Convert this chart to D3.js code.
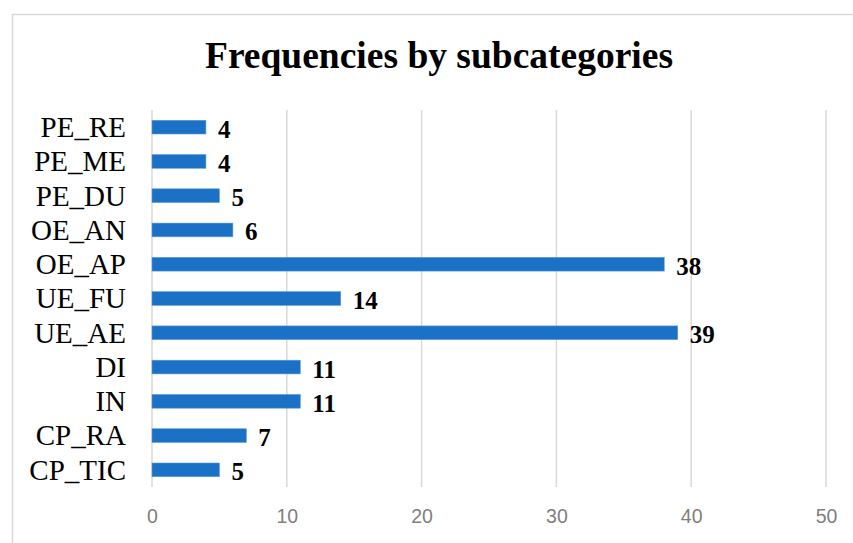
<!DOCTYPE html>
<html>
<head>
<meta charset="utf-8">
<script src="https://cdn.jsdelivr.net/npm/d3@7"></script>
<style>
  body { margin: 0; background: #fff; }
</style>
</head>
<body>
<div class="container"></div>
<script>
// chart size and plot area
const width = 853;
const height = 543;
const margin = { top: 110, bottom: 56, left: 152, right: 27 };

// data (top to bottom)
const categories = ["PE_RE", "PE_ME", "PE_DU", "OE_AN", "OE_AP", "UE_FU", "UE_AE", "DI", "IN", "CP_RA", "CP_TIC"];
const counts = [4, 4, 5, 6, 38, 14, 39, 11, 11, 7, 5];
const xTicks = [0, 10, 20, 30, 40, 50];

const svg = d3.select(".container")
  .append("svg")
  .attr("width", width)
  .attr("height", height);

// chart border (only top and left are visible in the picture)
svg.append("rect")
  .attr("x", 12.5)
  .attr("y", 14.5)
  .attr("width", width + 10)
  .attr("height", height + 10)
  .attr("fill", "none")
  .attr("stroke", "#d9d9d9")
  .attr("stroke-width", 1.5);

// title
svg.append("text")
  .attr("x", 439)
  .attr("y", 68)
  .attr("text-anchor", "middle")
  .attr("font-family", "'Liberation Serif', 'Times New Roman', serif")
  .attr("font-weight", "bold")
  .attr("font-size", "37.5px")
  .text("Frequencies by subcategories");

const xScale = d3.scaleLinear()
  .domain([0, 50])
  .range([margin.left, width - margin.right]);

const yScale = d3.scaleBand()
  .domain(categories)
  .range([margin.top, height - margin.bottom])
  .paddingInner(0.6)
  .paddingOuter(0.3);

// vertical gridlines
svg.append("g")
  .selectAll("line")
  .data(xTicks)
  .join("line")
  .attr("x1", d => xScale(d))
  .attr("x2", d => xScale(d))
  .attr("y1", margin.top)
  .attr("y2", height - margin.bottom)
  .attr("stroke", "#d9d9d9")
  .attr("stroke-width", 1.5);

// x axis tick labels
const xAxis = d3.axisBottom(xScale)
  .tickValues(xTicks)
  .tickSize(0)
  .tickPadding(0);

svg.append("g")
  .attr("transform", `translate(0, ${height - margin.bottom + 22})`)
  .call(xAxis)
  .call(g => g.select(".domain").remove())
  .call(g => g.selectAll("text")
    .attr("fill", "#808080")
    .attr("font-family", "'Liberation Sans', Arial, sans-serif")
    .attr("font-size", "19.5px"));

// y axis labels
const yAxis = d3.axisLeft(yScale)
  .tickSize(0)
  .tickPadding(26);

svg.append("g")
  .attr("transform", `translate(${margin.left}, 0)`)
  .call(yAxis)
  .call(g => g.select(".domain").remove())
  .call(g => g.selectAll("text")
    .attr("fill", "#000")
    .attr("dy", "0.34em")
    .attr("font-family", "'Liberation Serif', 'Times New Roman', serif")
    .attr("font-size", "29px"));

// bars
svg.append("g")
  .selectAll("rect")
  .data(counts)
  .join("rect")
  .attr("x", xScale(0))
  .attr("y", (d, i) => yScale(categories[i]))
  .attr("width", d => xScale(d) - xScale(0))
  .attr("height", yScale.bandwidth())
  .attr("fill", "#1a71c5")
  .attr("stroke", "#5b9bd5")
  .attr("stroke-width", 0.6);

// value labels
svg.append("g")
  .selectAll("text")
  .data(counts)
  .join("text")
  .attr("x", d => xScale(d) + 12)
  .attr("y", (d, i) => yScale(categories[i]) + yScale.bandwidth() / 2 + 10.5)
  .attr("font-family", "'Liberation Serif', 'Times New Roman', serif")
  .attr("font-weight", "bold")
  .attr("font-size", "25px")
  .text(d => d);
</script>
</body>
</html>
